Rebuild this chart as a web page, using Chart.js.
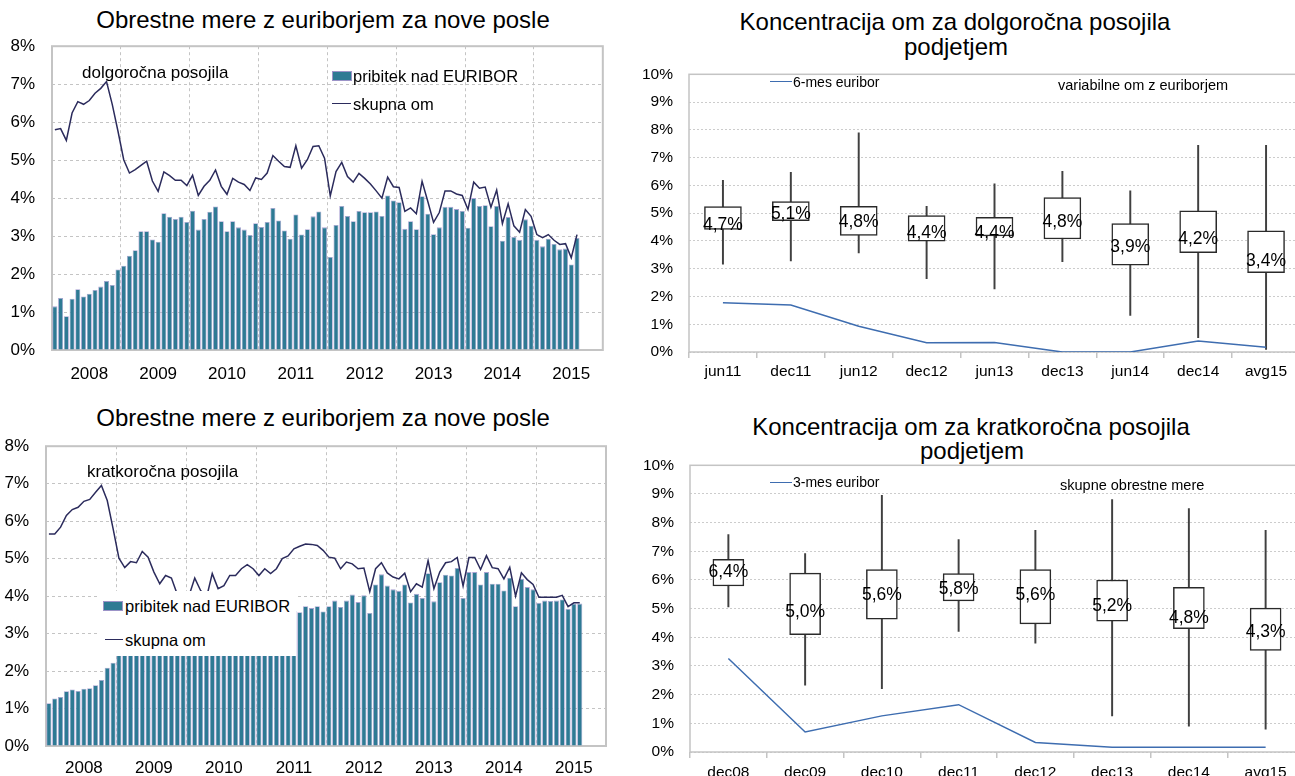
<!DOCTYPE html>
<html>
<head>
<meta charset="utf-8">
<script src="https://cdn.jsdelivr.net/npm/chart.js@4.4.0/dist/chart.umd.min.js"></script>
<style>
    body { margin: 0; width: 1295px; height: 776px; overflow: hidden; position: relative; background: #fff;
           font-family: "Liberation Sans", Arial, sans-serif; }
    canvas { position: absolute; }
    .t { position: absolute; white-space: nowrap; color: #000; line-height: 20px; height: 20px; }
    .title { font-size: 24px; text-align: center; line-height: 26px; height: 26px; }
    .swatch { position: absolute; background: #2e7a94; border: 1px solid #9c94c8; box-sizing: border-box; }
    .lineKey { position: absolute; height: 0; }
    .legendBox { position: absolute; background: #fff; }
</style>
</head>
<body>

<div class="t title" style="left:23px; top:7px; width:600px;">Obrestne mere z euriborjem za nove posle</div>
<div class="t title" style="left:655px; top:9px; width:600px;">Koncentracija om za dolgoročna posojila</div>
<div class="t title" style="left:656px; top:34px; width:600px;">podjetjem</div>
<div class="t title" style="left:23px; top:405px; width:600px;">Obrestne mere z euriborjem za nove posle</div>
<div class="t title" style="left:671px; top:414px; width:600px;">Koncentracija om za kratkoročna posojila</div>
<div class="t title" style="left:672px; top:438px; width:600px;">podjetjem</div>

<canvas id="dolgChart" width="614" height="371" style="left:0; top:19px;"></canvas>
<canvas id="kratkChart" width="616" height="367" style="left:0; top:419px;"></canvas>
<canvas id="dolgBox" width="671" height="338" style="left:629px; top:49px;"></canvas>
<canvas id="kratkBox" width="674" height="347" style="left:630px; top:440px;"></canvas>

<!-- top-left annotations -->
<div class="t" style="left:82px; top:63px; font-size:17px;">dolgoročna posojila</div>
<div class="swatch" style="left:332px; top:71px; width:20px; height:10px;"></div>
<div class="t" style="left:353px; top:66px; font-size:16.5px;">pribitek nad EURIBOR</div>
<div class="lineKey" style="left:332px; top:103px; width:19px; border-top:1.5px solid #2b2b5c;"></div>
<div class="t" style="left:353px; top:94px; font-size:16.5px;">skupna om</div>

<!-- bottom-left annotations, legend has a white box like the original -->
<div class="t" style="left:87px; top:462px; font-size:17px;">kratkoročna posojila</div>
<div class="legendBox" style="left:100px; top:591px; width:196px; height:65px;"></div>
<div class="swatch" style="left:103px; top:601px; width:20px; height:10px;"></div>
<div class="t" style="left:125px; top:596px; font-size:16.5px;">pribitek nad EURIBOR</div>
<div class="lineKey" style="left:105px; top:639px; width:18px; border-top:1.5px solid #2b2b5c;"></div>
<div class="t" style="left:125px; top:630px; font-size:16.5px;">skupna om</div>

<!-- right legends -->
<div class="lineKey" style="left:770px; top:81px; width:22px; border-top:1.5px solid #3e6db0;"></div>
<div class="t" style="left:793px; top:72px; font-size:14px;">6-mes euribor</div>
<div class="t" style="left:1058px; top:75px; font-size:14.5px;">variabilne om z euriborjem</div>
<div class="lineKey" style="left:770px; top:482px; width:22px; border-top:1.5px solid #3e6db0;"></div>
<div class="t" style="left:793px; top:472px; font-size:14px;">3-mes euribor</div>
<div class="t" style="left:1060px; top:475px; font-size:14.5px;">skupne obrestne mere</div>

<script>
// --- Data ---
const yearLabels = ['2008', '2009', '2010', '2011', '2012', '2013', '2014', '2015'];

// monthly categories Jan 2008 - Dec 2015 (data ends Aug 2015)
const months = [];
yearLabels.forEach(y => {
    for (let m = 1; m <= 12; m++) months.push(m + '/' + y);
});

// long-term loans: margin over EURIBOR and total rate
const dolgMarza = [1.15, 1.37, 0.89, 1.35, 1.60, 1.41, 1.48, 1.58, 1.67, 1.82, 1.71, 2.12,
    2.22, 2.48, 2.63, 3.13, 3.13, 2.91, 2.85, 3.60, 3.51, 3.45, 3.51, 3.37,
    3.67, 3.17, 3.45, 3.64, 3.78, 3.39, 3.13, 3.39, 3.23, 3.17, 3.03, 3.34,
    3.24, 3.37, 3.74, 3.41, 3.15, 2.93, 3.57, 3.04, 3.18, 3.52, 3.65, 3.23,
    2.45, 3.29, 3.79, 3.53, 3.39, 3.66, 3.63, 3.63, 3.65, 3.53, 4.07, 3.94,
    3.89, 3.19, 3.39, 3.18, 4.05, 3.59, 3.05, 3.23, 3.77, 3.77, 3.71, 3.66,
    3.22, 4.00, 3.79, 3.81, 3.26, 3.79, 2.88, 3.50, 2.98, 2.90, 3.44, 3.27,
    2.90, 2.73, 2.93, 2.79, 2.65, 2.67, 2.25, 2.95];
const dolgSkupna = [5.80, 5.83, 5.52, 6.24, 6.54, 6.47, 6.57, 6.76, 6.89, 7.07, 6.47, 5.76,
    5.01, 4.66, 4.75, 4.86, 4.97, 4.45, 4.18, 4.69, 4.59, 4.47, 4.47, 4.33,
    4.60, 4.07, 4.31, 4.47, 4.74, 4.31, 4.10, 4.52, 4.42, 4.36, 4.20, 4.53,
    4.49, 4.66, 5.12, 4.97, 4.83, 4.81, 5.38, 4.79, 5.01, 5.36, 5.38, 5.05,
    4.06, 4.70, 4.94, 4.57, 4.42, 4.65, 4.52, 4.37, 4.19, 4.00, 4.55, 4.30,
    4.28, 3.65, 3.74, 3.59, 4.44, 3.91, 3.36, 3.62, 4.19, 4.19, 4.11, 4.07,
    3.70, 4.42, 4.26, 4.29, 3.76, 4.21, 3.33, 3.85, 3.27, 3.10, 3.70, 3.52,
    3.04, 2.96, 3.04, 2.89, 2.78, 2.80, 2.43, 3.04];

// short-term loans (2009-2011 partly hidden behind the legend box)
const kratkMarza = [1.14, 1.27, 1.31, 1.46, 1.51, 1.47, 1.53, 1.54, 1.62, 1.76, 2.09, 2.22,
    2.6, 2.9, 3.1, 3.2, 3.3, 3.2, 3.4, 3.5, 3.4, 3.5, 3.6, 3.5,
    3.4, 3.6, 3.5, 3.7, 3.6, 3.5, 3.6, 3.7, 3.5, 3.6, 3.7, 3.6,
    3.5, 3.6, 3.7, 3.6, 3.5, 3.6, 3.6, 3.57, 3.73, 3.68, 3.73, 3.59,
    3.73, 3.88, 3.71, 3.88, 4.04, 3.84, 4.02, 3.55, 4.31, 4.58, 4.28, 4.18,
    4.14, 4.31, 3.83, 4.06, 3.95, 4.61, 3.86, 4.37, 4.57, 4.55, 4.75, 3.95,
    4.64, 4.64, 4.31, 4.64, 4.33, 4.33, 4.15, 4.49, 3.73, 4.46, 4.24, 4.18,
    3.82, 3.88, 3.87, 3.88, 3.91, 3.66, 3.80, 3.80];
const kratkSkupna = [5.66, 5.66, 5.84, 6.15, 6.31, 6.37, 6.53, 6.58, 6.77, 6.95, 6.55, 5.80,
    5.01, 4.76, 4.92, 4.89, 5.19, 5.04, 4.64, 4.33, 4.55, 4.48, 4.05, 3.90,
    4.00, 4.48, 4.15, 3.95, 4.60, 4.20, 4.28, 4.55, 4.55, 4.73, 4.84, 4.73,
    4.55, 4.73, 4.60, 4.73, 5.00, 5.07, 5.26, 5.33, 5.39, 5.38, 5.35, 5.22,
    5.04, 5.01, 4.73, 4.91, 4.86, 4.73, 4.75, 4.12, 4.73, 4.89, 4.62, 4.51,
    4.46, 4.61, 4.12, 4.33, 4.24, 4.95, 4.20, 4.64, 4.89, 4.92, 5.03, 4.27,
    5.03, 5.03, 4.71, 5.08, 4.76, 4.73, 4.46, 4.77, 4.00, 4.62, 4.44, 4.31,
    3.97, 3.97, 3.97, 3.97, 4.02, 3.72, 3.82, 3.82];

// distribution of rates, long-term loans
const dolgCats = ['jun11', 'dec11', 'jun12', 'dec12', 'jun13', 'dec13', 'jun14', 'dec14', 'avg15'];
const dolgMin = [3.16, 3.28, 3.57, 2.64, 2.27, 3.25, 1.32, 0.52, 0.09];
const dolgMax = [6.18, 6.47, 7.89, 5.25, 6.06, 6.51, 5.80, 7.44, 7.44];
const dolgQ1 = [4.41, 4.73, 4.20, 3.99, 4.18, 4.07, 3.13, 3.58, 2.86];
const dolgQ3 = [5.24, 5.42, 5.25, 4.91, 4.85, 5.56, 4.62, 5.08, 4.36];
const dolgMed = [4.7, 5.1, 4.8, 4.4, 4.4, 4.8, 3.9, 4.2, 3.4];
const euribor6m = [1.77, 1.69, 0.93, 0.33, 0.34, 0.0, 0.0, 0.40, 0.17];

// distribution of rates, short-term loans
const kratkCats = ['dec08', 'dec09', 'dec10', 'dec11', 'dec12', 'dec13', 'dec14', 'avg15'];
const kratkMin = [5.06, 2.33, 2.21, 4.21, 3.80, 1.26, 0.90, 0.80];
const kratkMax = [7.58, 6.92, 8.95, 7.41, 7.73, 8.80, 8.49, 7.73];
const kratkQ1 = [5.79, 4.09, 4.63, 5.27, 4.47, 4.56, 4.30, 3.54];
const kratkQ3 = [6.72, 6.24, 6.36, 6.22, 6.36, 6.00, 5.74, 5.02];
const kratkMed = [6.4, 5.0, 5.6, 5.8, 5.6, 5.2, 4.8, 4.3];
const euribor3m = [3.26, 0.70, 1.26, 1.65, 0.33, 0.17, 0.17, 0.17];

const FONT = '"Liberation Sans", Arial, sans-serif';

// grey frame round the plot area
const plotFrame = {
    id: 'plotFrame',
    beforeDatasetsDraw(chart, args, opts) {
        const a = chart.chartArea;
        const ctx = chart.ctx;
        ctx.save();
        ctx.strokeStyle = opts.color || '#c4c4c4';
        ctx.lineWidth = opts.width || 2;
        ctx.strokeRect(a.left, a.top, a.right - a.left, a.bottom - a.top);
        ctx.restore();
    }
};

// median value written inside each box
const boxLabels = {
    id: 'boxLabels',
    afterDatasetsDraw(chart, args, opts) {
        if (!opts.values) return;
        const ctx = chart.ctx;
        const xs = chart.scales.x, ys = chart.scales.y;
        ctx.save();
        ctx.font = '17.5px ' + FONT;
        ctx.fillStyle = '#000';
        ctx.textAlign = 'center';
        ctx.textBaseline = 'middle';
        opts.values.forEach((v, i) => {
            const txt = v.toFixed(1).replace('.', ',') + '%';
            ctx.fillText(txt, xs.getPixelForValue(i), ys.getPixelForValue(v) + 3.5);
        });
        ctx.restore();
    }
};

function monthlyChart(id, bars, line, yWidth, labelPad) {
    return new Chart(document.getElementById(id), {
        type: 'bar',
        data: {
            labels: months,
            datasets: [{
                type: 'line',
                data: line,
                borderColor: '#2b2b5c',
                borderWidth: 1.5,
                pointRadius: 0,
                tension: 0,
                order: 0
            }, {
                data: bars,
                backgroundColor: '#2e7a94',
                borderColor: '#a9a2d2',
                borderWidth: 0.8,
                barPercentage: 0.88,
                categoryPercentage: 1,
                order: 1
            }]
        },
        options: {
            responsive: false,
            animation: false,
            events: [],
            layout: { padding: { top: 12, right: 10, left: 0, bottom: 0 } },
            plugins: { legend: { display: false }, tooltip: { enabled: false }, plotFrame: { color: '#c4c4c4', width: 2 } },
            scales: {
                x: {
                    afterFit: s => { s.height = 40; },
                    grid: {
                        offset: true,
                        drawTicks: false,
                        color: ctx => (ctx.index > 0 && ctx.index % 12 === 0) ? '#c4c4c4' : 'rgba(0,0,0,0)'
                    },
                    border: { display: false, dash: [3, 3] },
                    ticks: {
                        autoSkip: false,
                        maxRotation: 0,
                        padding: labelPad,
                        color: '#000',
                        font: { family: FONT, size: 17 },
                        callback: (v, i) => (i % 12 === 6 ? yearLabels[Math.floor(i / 12)] : '')
                    }
                },
                y: {
                    min: 0,
                    max: 8,
                    afterFit: s => { s.width = yWidth; },
                    grid: { drawTicks: false, color: '#c4c4c4' },
                    border: { display: false, dash: [3, 3] },
                    ticks: {
                        stepSize: 1,
                        padding: 17,
                        color: '#000',
                        font: { family: FONT, size: 17 },
                        callback: v => v + '%'
                    }
                }
            }
        },
        plugins: [plotFrame]
    });
}

function boxChart(id, cats, mins, maxs, q1, q3, med, euribor, boxWidth, labelPad) {
    return new Chart(document.getElementById(id), {
        type: 'bar',
        data: {
            labels: cats,
            datasets: [{
                type: 'line',
                data: euribor,
                borderColor: '#3e6db0',
                borderWidth: 1.5,
                pointRadius: 0,
                tension: 0,
                order: 0
            }, {
                // box: white fill, dark outline
                data: q1.map((v, i) => [v, q3[i]]),
                backgroundColor: '#fff',
                borderColor: '#2a2a2a',
                borderWidth: 1.5,
                borderSkipped: false,
                barThickness: boxWidth,
                grouped: false,
                order: 1
            }, {
                // whisker from min to max, drawn behind the box
                data: mins.map((v, i) => [v, maxs[i]]),
                backgroundColor: '#404040',
                borderWidth: 0,
                barThickness: 1.3,
                grouped: false,
                order: 2
            }]
        },
        options: {
            responsive: false,
            animation: false,
            events: [],
            layout: { padding: { top: 12, right: 0, left: 0, bottom: 0 } },
            plugins: {
                legend: { display: false },
                tooltip: { enabled: false },
                plotFrame: { color: '#c4c4c4', width: 1.5 },
                boxLabels: { values: med }
            },
            scales: {
                x: {
                    afterFit: s => { s.height = 35; },
                    grid: {
                        offset: true,
                        drawOnChartArea: false,
                        drawTicks: true,
                        tickLength: 6,
                        color: '#c4c4c4',
                        lineWidth: 1.5
                    },
                    border: { display: false },
                    ticks: {
                        padding: labelPad,
                        maxRotation: 0,
                        color: '#000',
                        font: { family: FONT, size: 15.5 }
                    }
                },
                y: {
                    min: 0,
                    max: 10,
                    afterFit: s => { s.width = 60; },
                    grid: { drawTicks: false, color: '#cccccc' },
                    border: { display: false, dash: [2, 2] },
                    ticks: {
                        stepSize: 1,
                        padding: 16,
                        color: '#000',
                        font: { family: FONT, size: 15.5 },
                        callback: v => v + '%'
                    }
                }
            }
        },
        plugins: [plotFrame, boxLabels]
    });
}

monthlyChart('dolgChart', dolgMarza, dolgSkupna, 52, 14);
monthlyChart('kratkChart', kratkMarza, kratkSkupna, 46, 12);
boxChart('dolgBox', dolgCats, dolgMin, dolgMax, dolgQ1, dolgQ3, dolgMed, euribor6m, 37, 4);
boxChart('kratkBox', kratkCats, kratkMin, kratkMax, kratkQ1, kratkQ3, kratkMed, euribor3m, 31, 5);
</script>
</body>
</html>
